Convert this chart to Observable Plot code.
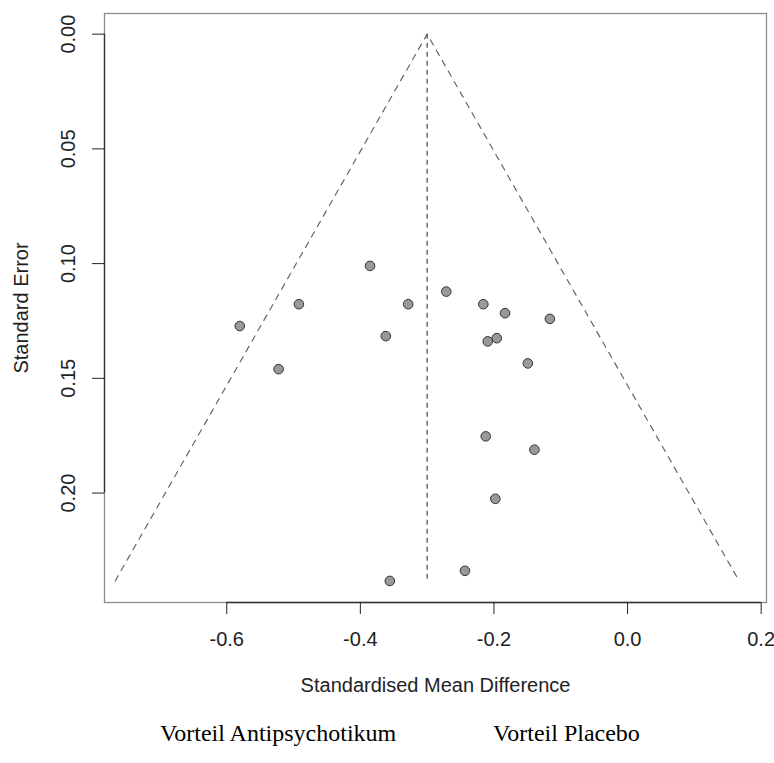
<!DOCTYPE html>
<html>
<head>
<meta charset="utf-8">
<script src="https://cdn.jsdelivr.net/npm/d3@7"></script>
<script src="https://cdn.jsdelivr.net/npm/@observablehq/plot@0.6"></script>
<style>
  html, body { margin: 0; padding: 0; background: #fff; }
  #wrap { position: relative; width: 774px; height: 763px; }
  #cap { position: relative; width: 774px; height: 51px; font-family: "Liberation Serif", "Times New Roman", serif; font-size: 24px; color: #000; }
  #cap span { position: absolute; top: 9px; line-height: 24px; white-space: nowrap; }
</style>
</head>
<body>
<div id="wrap"><div id="chart"></div><div id="cap"><span style="left:160px">Vorteil Antipsychotikum</span><span style="left:493px">Vorteil Placebo</span></div></div>
<script>
// Study effect sizes (standardised mean difference) and standard errors
const smd = [-0.5805, -0.5224, -0.4920, -0.3855, -0.3619, -0.3284, -0.2714, -0.2159, -0.1834,
             -0.1163, -0.1958, -0.2093, -0.1493, -0.2123, -0.1394, -0.1979, -0.2434, -0.3559];
const se  = [ 0.1272,  0.1460,  0.1177,  0.1010,  0.1316,  0.1177,  0.1122,  0.1177,  0.1216,
              0.1241,  0.1325,  0.1339,  0.1435,  0.1753,  0.1811,  0.2025,  0.2339,  0.2383];

// Funnel (pooled estimate and 95% limits)
const pooled = -0.3;
const funnelX = [-0.767, -0.3, 0.167];
const funnelY = [0.2383, 0, 0.2383];
const seMax = 0.2383;

const xTicks = [-0.6, -0.4, -0.2, 0.0, 0.2];
const yTicks = [0.00, 0.05, 0.10, 0.15, 0.20];
const xDomain = [-0.783, 0.208];
const yDomain = [-0.009, 0.2477];

const studies = smd.map((d, i) => ({smd: d, se: se[i]}));
const funnel = funnelX.map((d, i) => ({x: d, y: funnelY[i]}));

const FONT = "'Liberation Sans', Arial, Helvetica, sans-serif";
const FS = 20;

const chart = Plot.plot({
  width: 774,
  height: 712,
  marginLeft: 104,
  marginRight: 8,
  marginTop: 13,
  marginBottom: 110,
  style: {fontFamily: FONT, fontSize: FS + "px", color: "#222", background: "#fff"},
  x: {domain: xDomain},
  y: {domain: yDomain, reverse: true},
  marks: [
    Plot.frame({stroke: "#8a8a8a", strokeWidth: 1.3}),
    Plot.ruleX([xDomain[0]], {y1: yTicks[0], y2: yTicks[yTicks.length - 1], stroke: "#333", strokeWidth: 1.3}),
    Plot.ruleY([yDomain[1]], {x1: xTicks[0], x2: xTicks[xTicks.length - 1], stroke: "#333", strokeWidth: 1.3}),
    Plot.axisX({ticks: xTicks, tickSize: 12, tickPadding: 17, tickFormat: d => d.toFixed(1), label: null, fontSize: FS}),
    Plot.axisY({ticks: yTicks, tickSize: 12, tickFormat: () => "", label: null}),
    Plot.text(yTicks, {y: d => d, text: d => d.toFixed(2), frameAnchor: "left", textAnchor: "middle", dx: -36, rotate: -90, fontSize: FS, fill: "#222"}),
    Plot.text(["Standard Error"], {frameAnchor: "left", textAnchor: "middle", dx: -83, rotate: -90, fontSize: FS, fill: "#222"}),
    Plot.text(["Standardised Mean Difference"], {frameAnchor: "bottom", dy: 89, fontSize: FS, fill: "#222"}),
    Plot.line(funnel, {x: "x", y: "y", stroke: "#666", strokeWidth: 1.2, strokeDasharray: "6,6"}),
    Plot.ruleX([pooled], {y1: 0, y2: seMax, stroke: "#555", strokeWidth: 1.3, strokeDasharray: "5,4"}),
    Plot.dot(studies, {x: "smd", y: "se", r: 4.8, fill: "#999", stroke: "#333", strokeWidth: 1})
  ]
});
document.getElementById("chart").appendChild(chart);
</script>
</body>
</html>
